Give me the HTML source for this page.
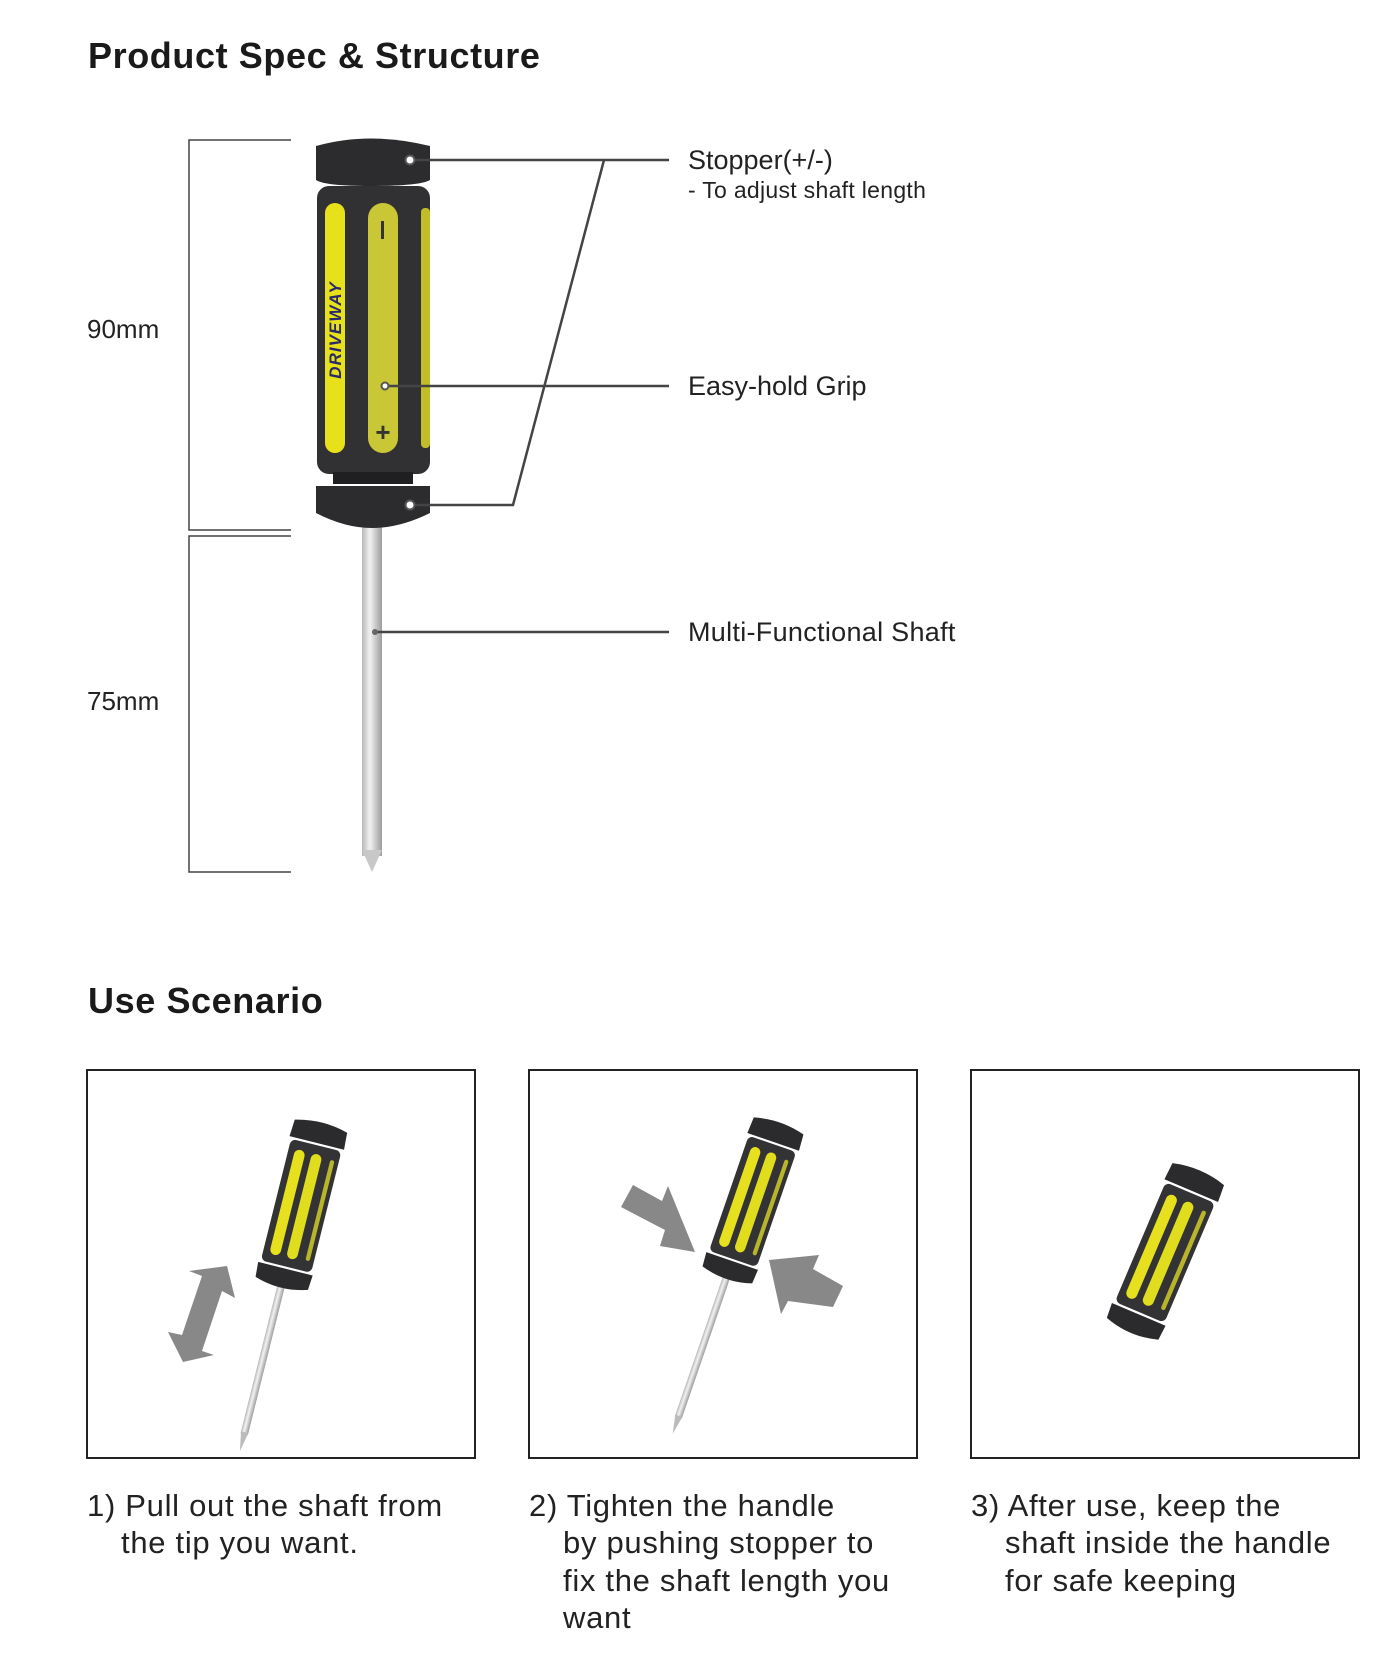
<!DOCTYPE html>
<html><head><meta charset="utf-8">
<style>
html,body{margin:0;padding:0;background:#fff;}
svg{display:block;font-family:"Liberation Sans",sans-serif;}
</style></head>
<body>
<svg width="1400" height="1670" viewBox="0 0 1400 1670" xmlns="http://www.w3.org/2000/svg">
<defs>
  <linearGradient id="shaft" x1="0" x2="1" y1="0" y2="0">
    <stop offset="0" stop-color="#b8b8b8"/><stop offset="0.4" stop-color="#f2f2f2"/><stop offset="1" stop-color="#9c9c9c"/>
  </linearGradient>
  <g id="hd">
    <path d="M-25,4 Q0,-3 25,4 L26,20 L-26,20 Z" fill="#2b2b2d"/>
    <rect x="-24" y="22" width="48" height="116" rx="5" fill="#333336"/>
    <rect x="-18" y="30" width="10" height="100" rx="5" fill="#e6e01e"/>
    <rect x="-2" y="30" width="10" height="100" rx="5" fill="#e0dc1e"/>
    <rect x="16" y="32" width="4" height="96" rx="2" fill="#b9b52a"/>
    <path d="M-26,140 L26,140 L25,154 Q0,162 -25,154 Z" fill="#2b2b2d"/>
  </g>
  <g id="sd">
    <rect x="-3.5" y="158" width="7" height="140" fill="url(#shaft)"/>
    <polygon points="-3.5,296 3.5,296 0,314" fill="#bbb"/>
    <use href="#hd"/>
  </g>
</defs>

<text x="88" y="68" font-size="36" font-weight="bold" fill="#1a1a1a" letter-spacing="0.6">Product Spec &amp; Structure</text>

<g stroke="#444" stroke-width="1.5" fill="none">
  <polyline points="291,140 189,140 189,530 291,530"/>
  <polyline points="291,536 189,536 189,872 291,872"/>
</g>
<text x="87" y="338" font-size="26" fill="#222">90mm</text>
<text x="87" y="710" font-size="26" fill="#222">75mm</text>

<!-- main screwdriver -->
<rect x="362" y="526" width="20" height="330" fill="url(#shaft)"/>
<polygon points="362,850 382,850 372,872" fill="#c8c8c8"/>
<path d="M316,146 Q370,131 430,146 L430,180 Q420,186 370,186 Q325,186 316,180 Z" fill="#2c2c2e"/>
<rect x="317" y="186" width="113" height="288" rx="12" fill="#313134"/>
<rect x="325" y="203" width="20" height="250" rx="10" fill="#e7e11c"/>
<rect x="368" y="203" width="30" height="250" rx="15" fill="#c9c736"/>
<rect x="421" y="208" width="9" height="240" rx="4" fill="#c0bc2a"/>
<text transform="translate(341,330) rotate(-90)" font-size="17" font-weight="bold" font-style="italic" fill="#2a2a6a" text-anchor="middle" letter-spacing="1">DRIVEWAY</text>
<rect x="381" y="221" width="3" height="18" fill="#333"/>
<text x="383" y="441" font-size="26" font-weight="bold" fill="#333" text-anchor="middle">+</text>
<rect x="333" y="472" width="80" height="12" fill="#1f1f21"/>
<path d="M316,486 L430,486 L430,513 Q400,528 372,528 Q345,528 316,513 Z" fill="#2c2c2e"/>

<g stroke="#444" stroke-width="2.5" fill="none">
  <line x1="411" y1="160" x2="669" y2="160"/>
  <polyline points="604,160 513,505 411,505"/>
  <line x1="386" y1="386" x2="669" y2="386"/>
  <line x1="375" y1="632" x2="669" y2="632"/>
</g>
<g fill="#fff" stroke="#555" stroke-width="2">
  <circle cx="410" cy="160" r="4.5"/>
  <circle cx="410" cy="505" r="4.5"/>
  <circle cx="385" cy="386" r="3.5"/>
</g>
<circle cx="375" cy="632" r="3" fill="#666"/>

<g font-size="27" fill="#222">
  <text x="688" y="169">Stopper(+/-)</text>
  <text x="688" y="198" font-size="23" letter-spacing="0.3">- To adjust shaft length</text>
  <text x="688" y="395">Easy-hold Grip</text>
  <text x="688" y="641" letter-spacing="0.3">Multi-Functional Shaft</text>
</g>

<text x="88" y="1013" font-size="36" font-weight="bold" fill="#1a1a1a" letter-spacing="0.6">Use Scenario</text>

<g fill="none" stroke="#222" stroke-width="2">
  <rect x="87" y="1070" width="388" height="388"/>
  <rect x="529" y="1070" width="388" height="388"/>
  <rect x="971" y="1070" width="388" height="388"/>
</g>

<!-- box1 -->
<use href="#sd" transform="translate(322,1122) rotate(14) scale(1.08)"/>
<polygon points="183,1362 168,1332 182,1335 202,1276 189,1271 227,1266 235,1298 222,1291 202,1351 214,1355" fill="#888"/>

<!-- box2 -->
<use href="#sd" transform="translate(780,1122) rotate(19) scale(1.05)"/>
<polygon points="621,1207 633,1185 662,1201 668,1186 695,1252 660,1246 665,1230" fill="#888"/>
<polygon points="833,1307 843,1286 813,1269 819,1255 769,1260 781,1314 788,1301" fill="#888"/>

<!-- box3 -->
<use href="#hd" transform="translate(1200,1170) rotate(23) scale(1.12)"/>

<g font-size="31" fill="#222" letter-spacing="0.7">
  <text x="87" y="1516">1) Pull out the shaft from</text>
  <text x="121" y="1553">the tip you want.</text>
  <text x="529" y="1516">2) Tighten the handle</text>
  <text x="563" y="1553">by pushing stopper to</text>
  <text x="563" y="1591">fix the shaft length you</text>
  <text x="563" y="1628">want</text>
  <text x="971" y="1516">3) After use, keep the</text>
  <text x="1005" y="1553">shaft inside the handle</text>
  <text x="1005" y="1591">for safe keeping</text>
</g>
</svg>
</body></html>
